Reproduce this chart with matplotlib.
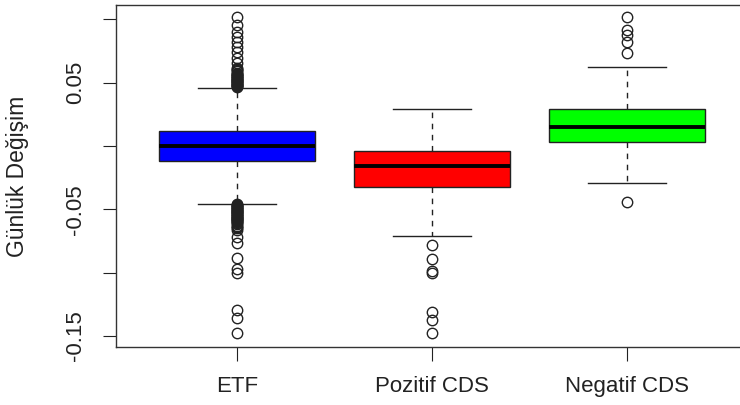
import matplotlib
matplotlib.use("Agg")
import matplotlib.pyplot as plt

plt.rcParams['font.family'] = ['Liberation Sans', 'DejaVu Sans']

# group names and colours
groups = ['ETF', 'Pozitif CDS', 'Negatif CDS']
colors = ['#0000ff', '#ff0000', '#00ff00']

# box statistics
medians = [0.0, -0.0155, 0.0153]
q1 = [-0.0116, -0.0321, 0.0034]
q3 = [0.0118, -0.0037, 0.0292]
whislo = [-0.0458, -0.0711, -0.029]
whishi = [0.046, 0.029, 0.0621]

# outliers (ETF has a dense band just past each whisker)
etf_out = [0.0465, 0.047, 0.0475, 0.048, 0.0485, 0.049, 0.0495, 0.050,
           0.0505, 0.051, 0.0515, 0.052, 0.0525, 0.053, 0.0535, 0.054,
           0.0545, 0.055, 0.0555, 0.056, 0.0565, 0.057, 0.058, 0.059,
           0.060, 0.061, 0.062, 0.0653, 0.0692, 0.0745, 0.0784, 0.0824,
           0.0863, 0.0903, 0.0956, 0.102,
           -0.046, -0.0465, -0.047, -0.0475, -0.048, -0.0485, -0.049,
           -0.0495, -0.050, -0.0505, -0.051, -0.0515, -0.052, -0.0525,
           -0.053, -0.0535, -0.054, -0.0545, -0.055, -0.0555, -0.056,
           -0.0565, -0.057, -0.0575, -0.058, -0.0585, -0.059, -0.0595,
           -0.060, -0.061, -0.062, -0.063, -0.064, -0.065, -0.0664,
           -0.0716, -0.0769, -0.0887, -0.0975, -0.1, -0.1295, -0.1361, -0.148]
poz_out = [-0.078, -0.0895, -0.0985, -0.1005, -0.131, -0.1374, -0.148]
neg_out = [-0.0445, 0.0732, 0.0824, 0.0877, 0.0916, 0.1017]

yticks = [-0.15, -0.10, -0.05, 0.0, 0.05, 0.10]
ytick_labels = ['-0.15', '', '-0.05', '', '0.05', '']

stats = []
for i, g in enumerate(groups):
    stats.append(dict(label=g, med=medians[i], q1=q1[i], q3=q3[i],
                      whislo=whislo[i], whishi=whishi[i],
                      fliers=[etf_out, poz_out, neg_out][i]))

fig = plt.figure(figsize=(7.4, 4.05), dpi=100)
ax = fig.add_axes([0.1568, 0.1432, 0.8538, 0.8445])

bp = ax.bxp(stats, positions=[1, 2, 3], widths=0.8, patch_artist=True,
            boxprops=dict(edgecolor='#222222', linewidth=1.0),
            medianprops=dict(color='black', linewidth=2.8, solid_capstyle='butt'),
            whiskerprops=dict(color='#222222', linewidth=1.0, linestyle=(0, (4, 4))),
            capprops=dict(color='#222222', linewidth=1.0),
            capwidths=0.4,
            flierprops=dict(marker='o', markerfacecolor='none',
                            markeredgecolor='#222222', markersize=7.5,
                            markeredgewidth=1.0))
for patch, c in zip(bp['boxes'], colors):
    patch.set_facecolor(c)

ax.set_xlim(0.38, 3.62)
ax.set_ylim(-0.1588, 0.1114)
ax.set_yticks(yticks)
ax.set_yticklabels(ytick_labels, rotation=90, va='center')
ax.tick_params(axis='y', length=9.5, pad=12, labelsize=16, colors='#222222')
ax.tick_params(axis='x', length=10, pad=11, labelsize=16, colors='#222222')
ax.set_ylabel('Günlük Değişim', fontsize=16.5, color='#222222')
ax.yaxis.set_label_coords(-0.138, 0.5)

for s in ax.spines.values():
    s.set_color('#333333')
    s.set_linewidth(1.0)

fig.savefig('out.png', dpi=100)
